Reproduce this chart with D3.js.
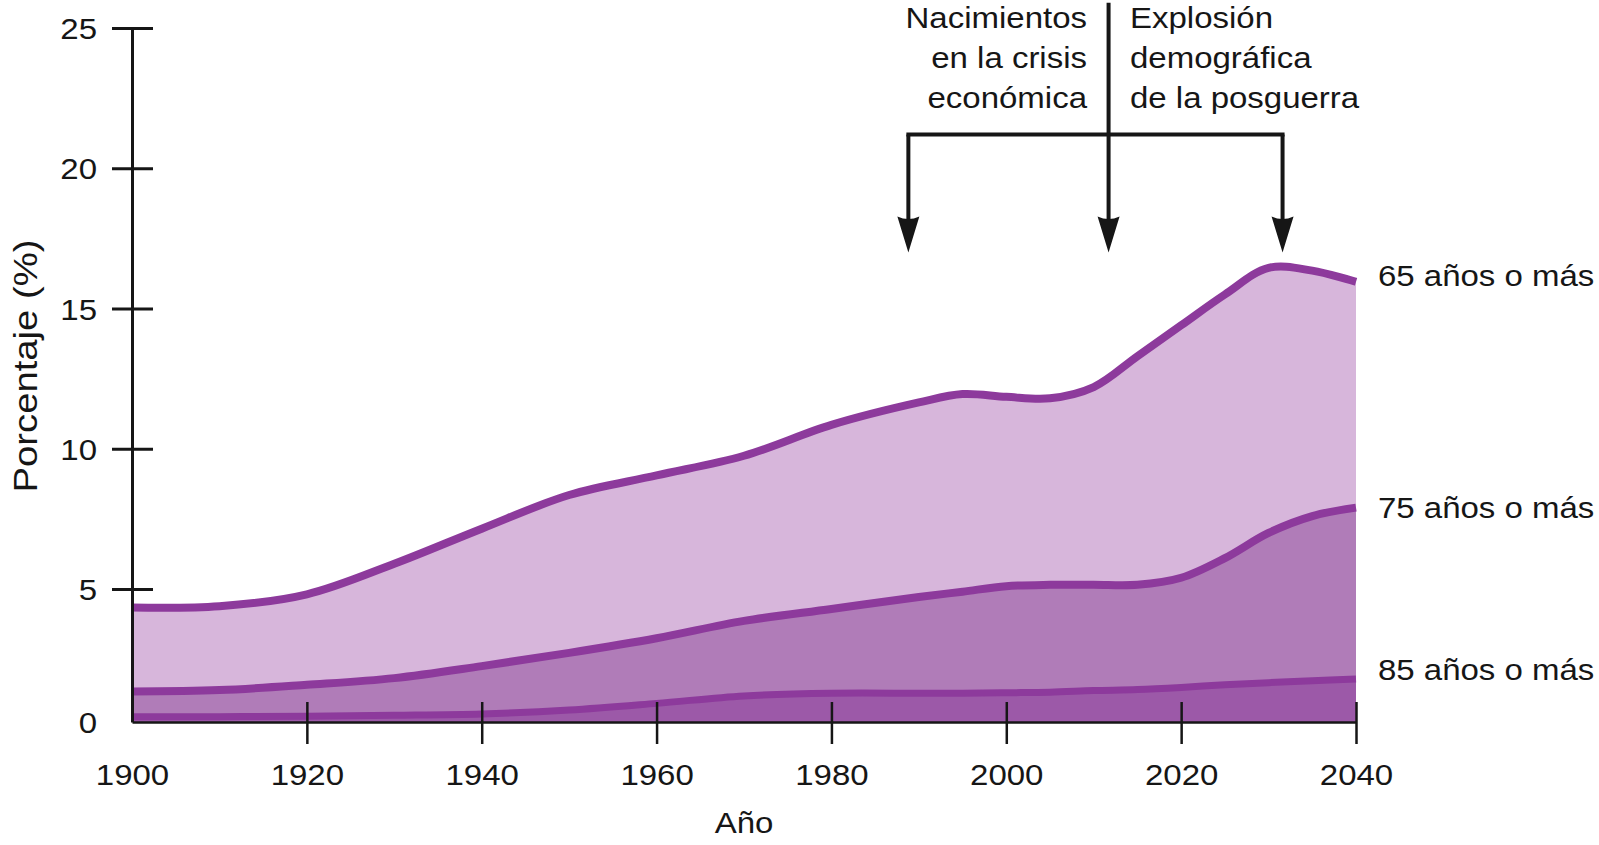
<!DOCTYPE html>
<html><head><meta charset="utf-8">
<script src="https://cdn.jsdelivr.net/npm/d3@7"></script>
<style>body{margin:0;background:#fff}svg{display:block}</style>
</head><body><svg id="c" width="1599" height="845"></svg>
<script>
// ---- data ----
const years  = [1900,1910,1920,1930,1940,1950,1960,1970,1980,1990,1995,2000,2005,2010,2015,2020,2025,2030,2035,2040];
const pct65  = [4.3, 4.35,4.8, 5.9, 7.15,8.35,9.05,9.75,10.85,11.65,11.95,11.85,11.8,12.2,13.3,14.4,15.5,16.45,16.35,15.95];
const pct75  = [1.15,1.2, 1.4, 1.65,2.1, 2.6, 3.15,3.8, 4.25,4.7, 4.9, 5.1, 5.15,5.15,5.15,5.4, 6.1, 7.0, 7.6, 7.9];
const pct85  = [0.2, 0.2, 0.22,0.25,0.3, 0.45,0.7, 0.98,1.08,1.08,1.08,1.1, 1.12,1.18,1.22,1.3, 1.4, 1.48,1.55,1.62];
const xTicks = [1900,1920,1940,1960,1980,2000,2020,2040];
const yTicks = [0,5,10,15,20,25];
const seriesLabels = ["65 años o más","75 años o más","85 años o más"];
const noteLeft  = ["Nacimientos","en la crisis","económica"];
const noteRight = ["Explosión","demográfica","de la posguerra"];
const arrowYears = [1988.8, 2011.7, 2031.6];
const xTitle = "Año", yTitle = "Porcentaje (%)";

// ---- layout / style ----
const FONT = "'Liberation Sans', Arial, Helvetica, sans-serif";
const FS = 30, SX = 1.1;
const fills = ["#d7b6db","#b07cb8","#9c59a8"];
const lineCol = "#8d3a9c";
const ink = "#161616";

const svg = d3.select("#c");
const x = d3.scaleLinear().domain([1900,2040]).range([132,1356]);
const y = d3.scaleLinear().domain([0,5,25]).range([722,589,28]);

function txt(g, s, px, py, anchor, rot, fs, sx) {
  return g.append("text").text(s)
    .attr("transform", `translate(${px},${py})` + (rot ? ` rotate(${rot})` : "") + ` scale(${sx||SX},1)`)
    .attr("text-anchor", anchor || "start")
    .attr("font-family", FONT).attr("font-size", fs||FS).attr("fill", ink);
}

const series = [pct65, pct75, pct85];
const curve = d3.curveCatmullRom.alpha(0.5);
const area = d3.area().x((d,i)=>x(years[i])).y0(y(0)).y1(d=>y(d)).curve(curve);
const line = d3.line().x((d,i)=>x(years[i])).y(d=>y(d)).curve(curve);

const gA = svg.append("g");
series.forEach((s,k)=>{
  gA.append("path").attr("d", area(s)).attr("fill", fills[k]);
});
series.forEach((s,k)=>{
  gA.append("path").attr("d", line(s)).attr("fill","none")
    .attr("stroke", lineCol).attr("stroke-width", k===2 ? 7 : 8);
});

// x axis
const gx = svg.append("g").attr("transform", `translate(0,${y(0)})`)
  .call(d3.axisBottom(x).tickValues(xTicks).tickSize(0).tickSizeOuter(0).tickFormat(d3.format("d")));
gx.select(".domain").attr("stroke", ink).attr("stroke-width", 2.5);
gx.selectAll(".tick").filter(d=>d!==1900).append("line")
  .attr("y1",-20).attr("y2",22).attr("stroke",ink).attr("stroke-width",2.5);
gx.selectAll(".tick text").attr("y",0).attr("dy",null)
  .attr("transform", `translate(0,63) scale(${SX},1)`)
  .attr("font-family", FONT).attr("font-size", FS).attr("fill", ink);

// y axis
const gy = svg.append("g").attr("transform", `translate(${x(1900)},0)`)
  .call(d3.axisLeft(y).tickValues(yTicks).tickSize(0).tickSizeOuter(0));
gy.select(".domain").attr("stroke", ink).attr("stroke-width", 3);
gy.selectAll(".tick").filter(d=>d!==0).append("line")
  .attr("x1",-20).attr("x2",21).attr("stroke",ink).attr("stroke-width",3);
gy.selectAll(".tick text").attr("x",0).attr("dy",null)
  .attr("transform", `translate(-35,10.5) scale(${SX},1)`)
  .attr("font-family", FONT).attr("font-size", FS).attr("fill", ink);

// axis titles
txt(svg, xTitle, 744, 833, "middle");
txt(svg, yTitle, 37, 366, "middle", -90, 33, 1.16);

// series labels
const labelY = [286, 518, 680];
seriesLabels.forEach((s,k)=> txt(svg, s, 1378, labelY[k], "start"));

// annotation
const gN = svg.append("g");
const tipV = 17, barV = 21.2, topV = 25.9, headH = 36, headW = 22;
gN.append("line").attr("x1", x(arrowYears[1])).attr("x2", x(arrowYears[1]))
  .attr("y1", y(topV)).attr("y2", y(barV)).attr("stroke", ink).attr("stroke-width", 4);
gN.append("line").attr("x1", x(arrowYears[0])-2).attr("x2", x(arrowYears[2])+2)
  .attr("y1", y(barV)).attr("y2", y(barV)).attr("stroke", ink).attr("stroke-width", 4);
arrowYears.forEach(a=>{
  const ax = x(a), ty = y(tipV);
  gN.append("line").attr("x1", ax).attr("x2", ax).attr("y1", y(barV)).attr("y2", ty-headH+4)
    .attr("stroke", ink).attr("stroke-width", 4);
  gN.append("path").attr("d", `M${ax-headW/2},${ty-headH} Q${ax},${ty-headH+5} ${ax+headW/2},${ty-headH} L${ax},${ty} Z`).attr("fill", ink);
});
noteLeft.forEach((s,i)=> txt(gN, s, 1087, 28 + 40*i, "end"));
noteRight.forEach((s,i)=> txt(gN, s, 1130, 28 + 40*i, "start"));
</script></body></html>
